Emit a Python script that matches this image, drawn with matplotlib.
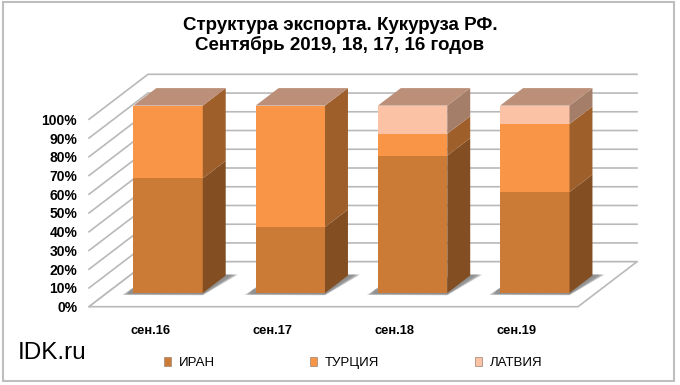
import matplotlib
matplotlib.use("Agg")
from matplotlib import pyplot as plt
from matplotlib.patches import Patch, Polygon, Rectangle

plt.rcParams['font.family'] = ['Liberation Sans', 'DejaVu Sans']

# данные
months = ['сен.16', 'сен.17', 'сен.18', 'сен.19']
iran = [61.2, 35.2, 73.3, 53.9]
turkey = [38.8, 64.8, 11.7, 36.3]
latvia = [0, 0, 15.0, 9.8]
series_names = ['ИРАН', 'ТУРЦИЯ', 'ЛАТВИЯ']
y_ticks = [0, 10, 20, 30, 40, 50, 60, 70, 80, 90, 100]

front_colors = ['#CB7B35', '#F99546', '#FCC2A5']
side_colors = ['#824E22', '#9E5F2B', '#A57E69']
top_color = '#BB8F78'
grid_color = '#B9B9B9'

W, H = 680, 385
fig = plt.figure(figsize=(W / 100, H / 100), dpi=100)

# рамка
fig.add_artist(Rectangle((3 / W, 1 - 381 / H), 671 / W, 379.5 / H, transform=fig.transFigure,
                         fc='white', ec='#BEBEBE', lw=1.5, zorder=-1))

# передний край пола: 89..578 px, 306.7..119.3 px
ax = fig.add_axes([89 / W, 1 - 306.7 / H, 489 / W, 187.4 / H])
ax.set_xlim(-0.5, 3.5)
ax.set_ylim(0, 100)
ax.patch.set_visible(False)
for s in ax.spines.values():
    s.set_visible(False)

# глубина псевдо-3D в единицах данных
DX = 59 / 122.25
DY = 45 / 1.874
NEAR, FAR = 0.304, 0.693
HALF = 34.7 / 122.25


def pr(x, y, d):
    return (x + d * DX, y + d * DY)


def poly(pts, **kw):
    ax.add_patch(Polygon(pts, closed=True, clip_on=False, **kw))


# сетка: боковая и задняя стенки
for v in y_ticks:
    ax.plot([pr(-0.5, v, 0)[0], pr(-0.5, v, 1)[0], pr(3.5, v, 1)[0]],
            [pr(-0.5, v, 0)[1], pr(-0.5, v, 1)[1], pr(3.5, v, 1)[1]],
            color=grid_color, lw=1.2, clip_on=False, zorder=1, solid_joinstyle='miter')
# пол
poly([pr(-0.5, 0, 0), pr(3.5, 0, 0), pr(3.5, 0, 1), pr(-0.5, 0, 1)],
     fc='white', ec=grid_color, lw=1.2, zorder=1.5, joinstyle='miter')

# столбцы
for i in range(len(months)):
    xl, xr = i - HALF, i + HALF
    # тень на полу
    for grow, alpha in [(1.0, 0.3), (0.85, 0.3), (0.7, 0.3), (0.5, 0.3)]:
        poly([pr(xl - 0.09 * grow, -1.0 * grow, NEAR), pr(xr, -1.2 * grow, NEAR),
              pr(xr + 0.09 * grow, 0, FAR + 0.02), pr(xr - 0.05, 0, FAR + 0.02),
              pr(xl - 0.058, 0, NEAR + 0.14 * grow)],
             fc='#707070', ec='none', alpha=alpha, zorder=2)
    bottom = 0
    for vals, fc, sc in zip([iran, turkey, latvia], front_colors, side_colors):
        v = vals[i]
        if v <= 0:
            continue
        top = bottom + v
        poly([pr(xl, bottom, NEAR), pr(xr, bottom, NEAR), pr(xr, top, NEAR), pr(xl, top, NEAR)],
             fc=fc, ec='none', zorder=3)
        poly([pr(xr, bottom, NEAR), pr(xr, bottom, FAR), pr(xr, top, FAR), pr(xr, top, NEAR)],
             fc=sc, ec='none', zorder=3)
        bottom = top
    poly([pr(xl, bottom, NEAR), pr(xr, bottom, NEAR), pr(xr, bottom, FAR), pr(xl, bottom, FAR)],
         fc=top_color, ec='none', zorder=3)

# оси
ax.set_xticks(range(len(months)))
ax.set_xticklabels(months, fontsize=9.3, fontweight='bold')
ax.set_yticks(y_ticks)
ax.set_yticklabels(['%d%%' % v for v in y_ticks], fontsize=10, fontweight='bold')
ax.tick_params(axis='y', length=0, pad=8.5)
ax.tick_params(axis='x', length=0, pad=13)

fig.text(340 / W, 1 - 35.5 / H, 'Структура экспорта. Кукуруза РФ.\nСентябрь 2019, 18, 17, 16 годов',
         ha='center', va='center', fontsize=13.5, fontweight='bold', linespacing=1.15)
fig.text(18 / W, 1 - 353 / H, 'IDK.ru', ha='left', va='center', fontsize=17.5)

handles = [Patch(fc=c, ec='#A89080', lw=0.6) for c in front_colors]
fig.legend(handles, series_names, ncol=3, frameon=False, loc='center',
           bbox_to_anchor=(353 / W, 1 - 363 / H), handlelength=0.55, handleheight=0.7,
           handletextpad=0.6, columnspacing=7.2, borderpad=0, prop={'size': 9.5})

fig.savefig('out.png', dpi=100)
